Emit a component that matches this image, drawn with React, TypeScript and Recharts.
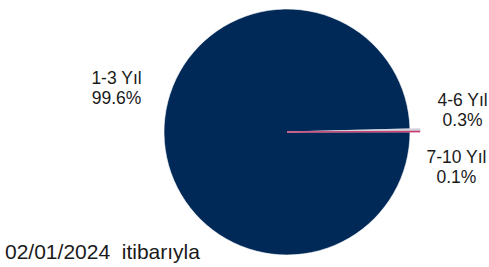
import { PieChart, Pie, Cell, Sector } from "recharts";

const categories = ["1-3 Yıl", "4-6 Yıl", "7-10 Yıl"];
const shares = [99.6, 0.3, 0.1];
const colors = ["#002957", "#d2d2da", "#c8356b"];
const asOfText = "02/01/2024  itibarıyla";

const data = categories.map((name, i) => ({ name, value: shares[i] }));

// label spots: angle (deg, counter-clockwise from 3 o'clock) and distance past the rim
const labelAngles = [165.6, 7.3, -11.6];
const labelGap = [53, 54, 50];
const RAD = Math.PI / 180;
const FONT = "'Liberation Sans', Arial, sans-serif";

function renderLabel(props: any) {
  const { cx, cy, outerRadius, index } = props;
  const r = outerRadius + labelGap[index];
  const a = labelAngles[index] * RAD;
  const x = cx + r * Math.cos(a);
  const y = cy - r * Math.sin(a);
  return (
    <text x={x} y={y} textAnchor="middle" fontFamily={FONT} fontSize={17.5} fill="#1a1a1a">
      <tspan x={x} dy={-4}>{categories[index]}</tspan>
      <tspan x={x} dy={20}>{shares[index].toFixed(1)}%</tspan>
    </text>
  );
}

function renderShape(props: any) {
  const small = props.payload && props.payload.name !== categories[0];
  return <Sector {...props} outerRadius={props.outerRadius + (small ? 10 : 0)} />;
}

export default function App() {
  return (
    <div style={{ position: "absolute", left: 0, top: 0, width: 489, height: 267, background: "#fff" }}>
      <PieChart width={489} height={267} style={{ overflow: "visible" }}>
        <Pie
          data={data}
          dataKey="value"
          nameKey="name"
          cx={282}
          cy={127}
          outerRadius={123}
          startAngle={0}
          endAngle={-360}
          label={renderLabel}
          labelLine={false}
          shape={renderShape}
          isAnimationActive={false}
        >
          {data.map((d, i) => (
            <Cell
              key={d.name}
              fill={colors[i]}
              stroke={i === 0 ? "#ffffff" : colors[i]}
              strokeWidth={i === 0 ? 0.6 : 0.8}
            />
          ))}
        </Pie>
        <text x={5} y={259} fontFamily={FONT} fontSize={21} fill="#1a1a1a" style={{ whiteSpace: "pre" }}>
          {asOfText}
        </text>
      </PieChart>
    </div>
  );
}
